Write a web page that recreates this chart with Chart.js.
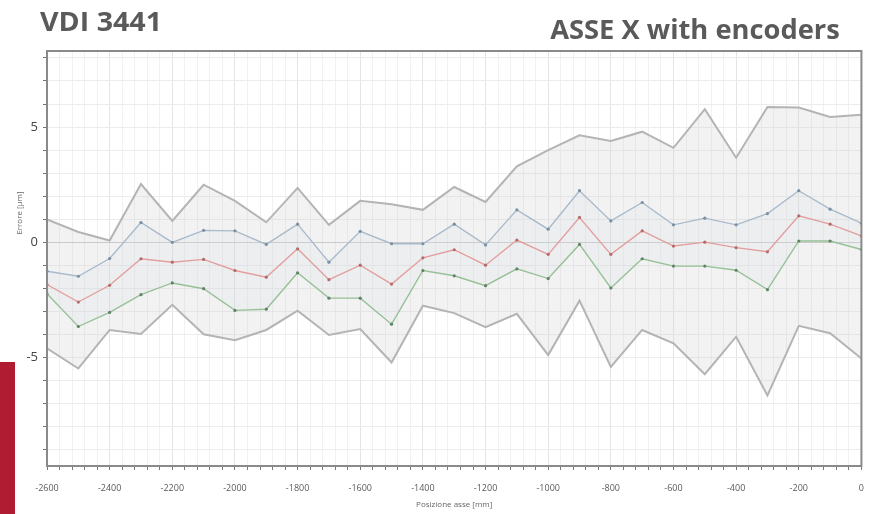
<!DOCTYPE html>
<html>
<head>
<meta charset="utf-8">
<script src="https://cdn.jsdelivr.net/npm/chart.js@4/dist/chart.umd.min.js"></script>
<style>
  body { margin: 0; background: #fff; }
  #wrap { position: relative; width: 877px; height: 514px; overflow: hidden; }
  #chart { position: absolute; left: 0; top: 0; }
  .head { position: absolute; font-family: 'Open Sans', sans-serif; font-weight: bold; font-size: 26px; line-height: normal; color: #5a5a5a; white-space: nowrap; }
  #ytitle { position: absolute; left: 18px; top: 213px; transform: translate(-50%, -50%) rotate(-90deg); font-family: 'Open Sans', sans-serif; font-size: 8px; color: #666; white-space: nowrap; }
  #redbar { position: absolute; left: 0; top: 362px; width: 15px; height: 152px; background: #b01c31; }
</style>
</head>
<body>
<div id="wrap">
  <canvas id="chart" width="877" height="514"></canvas>
  <div class="head" style="left:40px; top:3px; transform:scaleX(1.1); transform-origin:left center;">VDI 3441</div>
  <div class="head" style="right:37px; top:11px; transform:scaleX(1.05); transform-origin:right center;">ASSE X with encoders</div>
  <div id="ytitle">Errore [µm]</div>
  <div id="redbar"></div>
</div>
<script>
// axis positions [mm]
const positions = [-2600, -2500, -2400, -2300, -2200, -2100, -2000, -1900, -1800, -1700, -1600, -1500, -1400,
  -1300, -1200, -1100, -1000, -900, -800, -700, -600, -500, -400, -300, -200, -100, 0];

// errors [um]
const upperBand = [1.0, 0.45, 0.08, 2.53, 0.93, 2.5, 1.8, 0.87, 2.36, 0.76, 1.8, 1.65, 1.41,
  2.4, 1.75, 3.3, 4.0, 4.64, 4.4, 4.8, 4.1, 5.78, 3.67, 5.87, 5.85, 5.44, 5.54];
const blueSeries = [-1.25, -1.47, -0.7, 0.86, 0.0, 0.52, 0.5, -0.09, 0.79, -0.86, 0.48, -0.06, -0.06,
  0.79, -0.11, 1.41, 0.57, 2.24, 0.93, 1.73, 0.76, 1.05, 0.76, 1.25, 2.24, 1.44, 0.83];
const redSeries = [-1.83, -2.59, -1.86, -0.71, -0.86, -0.74, -1.22, -1.51, -0.28, -1.62, -0.99, -1.81, -0.67,
  -0.32, -0.99, 0.1, -0.52, 1.08, -0.52, 0.5, -0.16, 0.01, -0.23, -0.41, 1.15, 0.79, 0.28];
const greenSeries = [-2.23, -3.65, -3.04, -2.27, -1.76, -2.01, -2.95, -2.9, -1.32, -2.42, -2.42, -3.55, -1.22,
  -1.45, -1.88, -1.15, -1.57, -0.09, -1.98, -0.71, -1.03, -1.03, -1.21, -2.05, 0.06, 0.06, -0.31];
const lowerBand = [-4.6, -5.47, -3.8, -3.97, -2.71, -3.99, -4.24, -3.8, -2.96, -4.02, -3.76, -5.21, -2.75,
  -3.07, -3.68, -3.1, -4.89, -2.53, -5.4, -3.8, -4.38, -5.72, -4.09, -6.64, -3.62, -3.94, -5.04];

// y ticks every 1 um, labels only on these
const yTicks = [-9, -8, -7, -6, -5, -4, -3, -2, -1, 0, 1, 2, 3, 4, 5, 6, 7, 8];
const yLabels = [-5, 0, 5];
const xLabelStep = 200;

function pts(values) {
  return positions.map((p, i) => ({ x: p, y: values[i] }));
}

// frame around the plot area
const frame = {
  id: 'frame',
  afterDraw(chart) {
    const a = chart.chartArea;
    const ctx = chart.ctx;
    ctx.save();
    ctx.strokeStyle = '#8a8a8a';
    ctx.lineWidth = 2;
    ctx.strokeRect(a.left, a.top, a.right - a.left, a.bottom - a.top);
    ctx.restore();
  }
};

new Chart(document.getElementById('chart'), {
  type: 'line',
  data: {
    datasets: [
      {
        label: 'lower',
        data: pts(lowerBand),
        borderColor: '#b4b4b4',
        borderWidth: 2,
        pointRadius: 0,
        fill: false
      },
      {
        label: 'upper',
        data: pts(upperBand),
        borderColor: '#b4b4b4',
        borderWidth: 2,
        pointRadius: 0,
        fill: { target: 0 },
        backgroundColor: 'rgba(205, 205, 205, 0.25)'
      },
      {
        label: 'green',
        data: pts(greenSeries),
        borderColor: '#86bd86',
        borderWidth: 1.4,
        pointRadius: 1.6,
        pointBackgroundColor: '#3d6e45',
        pointBorderWidth: 0,
        fill: false
      },
      {
        label: 'red',
        data: pts(redSeries),
        borderColor: '#ec8f8f',
        borderWidth: 1.4,
        pointRadius: 1.6,
        pointBackgroundColor: '#b04a4a',
        pointBorderWidth: 0,
        fill: false
      },
      {
        label: 'blue',
        data: pts(blueSeries),
        borderColor: '#9fb5cc',
        borderWidth: 1.4,
        pointRadius: 1.6,
        pointBackgroundColor: '#5f7c99',
        pointBorderWidth: 0,
        fill: { target: 2 },
        backgroundColor: 'rgba(215, 228, 242, 0.2)'
      }
    ]
  },
  options: {
    responsive: false,
    animation: false,
    layout: { padding: { left: 0, right: 13, top: 51, bottom: 0 } },
    plugins: {
      legend: { display: false },
      tooltip: { enabled: false }
    },
    scales: {
      x: {
        type: 'linear',
        min: -2600,
        max: 0,
        afterFit(scale) { scale.height = 48; },
        border: { display: true, color: '#8a8a8a', width: 2 },
        grid: {
          color: ctx => (Math.round(ctx.tick.value) % xLabelStep === 0) ? '#e4e4e4' : '#f1f1f1',
          tickColor: '#777',
          tickLength: 4
        },
        ticks: {
          stepSize: 40,
          autoSkip: false,
          maxRotation: 0,
          padding: 13,
          color: '#5a5a5a',
          font: { family: 'Open Sans', size: 9 },
          callback: v => {
            const r = Math.round(v);
            return r % xLabelStep === 0 ? String(r) : '';
          }
        },
        title: {
          display: true,
          text: 'Posizione asse [mm]',
          color: '#666',
          font: { family: 'Open Sans', size: 8 },
          padding: { top: 0, bottom: 4 }
        }
      },
      y: {
        min: -9.7,
        max: 8.3,
        afterFit(scale) { scale.width = 47; },
        afterBuildTicks(scale) { scale.ticks = yTicks.map(v => ({ value: v })); },
        border: { display: true, color: '#8a8a8a', width: 2 },
        grid: {
          color: ctx => Math.abs(ctx.tick.value) < 1e-6 ? '#c8c8c8' : '#ececec',
          tickColor: '#777',
          tickLength: 4
        },
        ticks: {
          autoSkip: false,
          padding: 5,
          color: '#444',
          font: { family: 'Open Sans', size: 13 },
          callback: v => (yLabels.includes(Math.round(v)) ? String(Math.round(v)) : '')
        }
      }
    }
  },
  plugins: [frame]
});
</script>
</body>
</html>
